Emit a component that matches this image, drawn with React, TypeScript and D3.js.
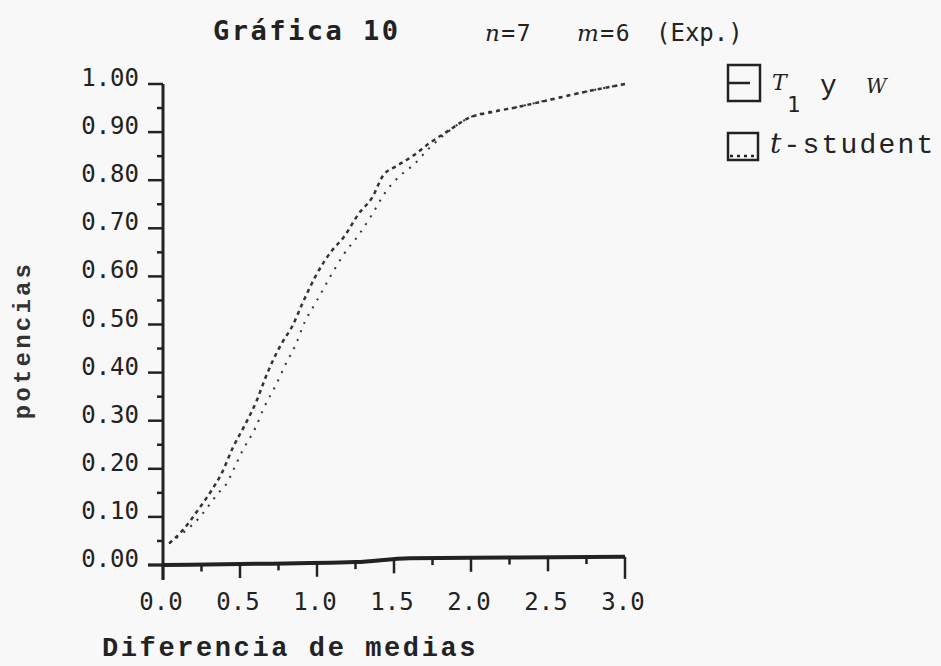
import React from "react";
import * as d3 from "d3";

const width = 941;
const height = 666;

// curva T1 y W (diferencia de medias, potencia)
const difT1 = [0.04, 0.13, 0.24, 0.325, 0.38, 0.455, 0.53, 0.61, 0.66, 0.715, 0.77, 0.845, 0.9, 0.99, 1.1, 1.17, 1.27, 1.36, 1.43, 1.52, 1.62, 1.73, 1.84, 1.99, 2.14, 2.3, 2.51, 2.73, 3.0];
const potT1 = [0.045, 0.073, 0.12, 0.16, 0.19, 0.245, 0.29, 0.343, 0.385, 0.426, 0.46, 0.5, 0.54, 0.6, 0.655, 0.68, 0.73, 0.765, 0.81, 0.83, 0.85, 0.877, 0.9, 0.93, 0.942, 0.952, 0.967, 0.983, 1.0];

// curva t-student
const difT = [0.04, 0.24, 0.36, 0.415, 0.45, 0.52, 0.6, 0.66, 0.73, 0.8, 0.86, 0.92, 1.0, 1.08, 1.17, 1.27, 1.36, 1.44, 1.56, 1.62, 1.73, 1.84, 1.99, 2.3, 2.73, 3.0];
const potT = [0.045, 0.1, 0.15, 0.17, 0.193, 0.24, 0.285, 0.33, 0.372, 0.42, 0.457, 0.505, 0.55, 0.596, 0.644, 0.686, 0.73, 0.773, 0.815, 0.83, 0.867, 0.898, 0.93, 0.952, 0.983, 1.0];

// linea gruesa de la base
const difBase = [0, 0.5, 1.25, 1.6, 2.0, 3.0];
const potBase = [0, 0.002, 0.006, 0.014, 0.015, 0.017];

const yTicks = [0, 0.1, 0.2, 0.3, 0.4, 0.5, 0.6, 0.7, 0.8, 0.9, 1.0];
const yTickLabels = ["0.00", "0.10", "0.20", "0.30", "0.40", "0.50", "0.60", "0.70", "0.80", "0.90", "1.00"];
const xTicks = [0, 0.5, 1.0, 1.5, 2.0, 2.5, 3.0];
const xTickLabels = ["0.0", "0.5", "1.0", "1.5", "2.0", "2.5", "3.0"];

const x = d3.scaleLinear().domain([0, 3]).range([163, 625]);
const y = d3.scaleLinear().domain([0, 1]).range([565, 84]);
const baseAt = d3.scaleLinear().domain(difBase).range(potBase.map(v => y(v)));

const line = d3.line<[number, number]>()
  .x(d => x(d[0]))
  .y(d => y(d[1]))
  .curve(d3.curveMonotoneX);

const ink = "#222";
const mono = "'DejaVu Sans Mono', monospace";
const courier = "'Liberation Mono', 'Courier New', monospace";

export default function App() {
  const t1 = line(difT1.map((d, i) => [d, potT1[i]] as [number, number]));
  const ts = line(difT.map((d, i) => [d, potT[i]] as [number, number]));
  const base = line(difBase.map((d, i) => [d, potBase[i]] as [number, number]));

  const yMinor = d3.range(0.05, 1, 0.1);
  const xMinor = d3.range(0.25, 3, 0.5);

  return (
    <svg width={width} height={height} style={{ position: "absolute", left: 0, top: 0 }}>
      <rect width={width} height={height} fill="#f8f8f8" />

      {/* titulo */}
      <text x={213} y={40} fontFamily={mono} fontWeight="bold" fontSize={27} letterSpacing={2.5} fill={ink}>Gráfica 10</text>
      <text x={485} y={41} fontFamily={mono} fontSize={23} letterSpacing={1.5} fill={ink}>
        <tspan fontStyle="italic" fontFamily="'DejaVu Serif', serif">n</tspan>=7
      </text>
      <text x={577} y={41} fontFamily={mono} fontSize={23} letterSpacing={1.5} fill={ink}>
        <tspan fontStyle="italic" fontFamily="'DejaVu Serif', serif">m</tspan>=6
      </text>
      <text x={656} y={41} fontFamily={mono} fontSize={24} fill={ink}>(Exp.)</text>

      {/* eje y */}
      <line x1={x(0)} x2={x(0)} y1={y(1)} y2={580} stroke={ink} strokeWidth={3} />
      {yTicks.map(t => (
        <line key={"yt" + t} x1={x(0) - 15} x2={x(0)} y1={y(t)} y2={y(t)} stroke={ink} strokeWidth={2.5} />
      ))}
      {yMinor.map(t => (
        <line key={"ym" + t} x1={x(0) - 6} x2={x(0)} y1={y(t)} y2={y(t)} stroke={ink} strokeWidth={2.5} />
      ))}
      {yTicks.map((t, i) => (
        <text key={"yl" + t} x={139} y={y(t) + 2} textAnchor="end" fontFamily={mono} fontSize={24} fill={ink}>{yTickLabels[i]}</text>
      ))}
      <text transform={`translate(30,340) rotate(-90)`} textAnchor="middle" fontFamily={courier} fontWeight="bold" fontSize={24} letterSpacing={3.2} fill="#333">potencias</text>

      {/* eje x */}
      <path d={base ?? ""} fill="none" stroke={ink} strokeWidth={4} />
      <line x1={148} x2={x(0)} y1={y(0)} y2={y(0)} stroke={ink} strokeWidth={3} />
      {xTicks.map(t => (
        <line key={"xt" + t} x1={x(t)} x2={x(t)} y1={baseAt(t)} y2={baseAt(t) + (t === 3 ? 22 : 14)} stroke={ink} strokeWidth={2.5} />
      ))}
      {xMinor.map(t => (
        <line key={"xm" + t} x1={x(t)} x2={x(t)} y1={baseAt(t)} y2={baseAt(t) + 7} stroke={ink} strokeWidth={2.5} />
      ))}
      {xTicks.map((t, i) => (
        <text key={"xl" + t} x={x(t) - 2} y={610} textAnchor="middle" fontFamily={mono} fontSize={24} fill={ink}>{xTickLabels[i]}</text>
      ))}
      <text x={102} y={656} fontFamily={courier} fontWeight="bold" fontSize={27} letterSpacing={2.6} fill={ink}>Diferencia de medias</text>

      {/* curvas */}
      <path d={ts ?? ""} fill="none" stroke="#333" strokeWidth={2} strokeDasharray="2 7" />
      <path d={t1 ?? ""} fill="none" stroke="#333" strokeWidth={2.5} strokeDasharray="4 4" />

      {/* leyenda */}
      <rect x={728} y={65} width={32} height={36} fill="none" stroke={ink} strokeWidth={2.5} />
      <line x1={728} x2={750} y1={83} y2={83} stroke={ink} strokeWidth={2.5} />
      <text x={772} y={90} fontFamily="'DejaVu Serif', serif" fontStyle="italic" fontSize={22} fill={ink}>T</text>
      <text x={787} y={112} fontFamily={mono} fontSize={22} fill={ink}>1</text>
      <text x={820} y={94} fontFamily={courier} fontSize={28} fill={ink}>y</text>
      <text x={866} y={93} fontFamily="'DejaVu Serif', serif" fontStyle="italic" fontSize={20} fill={ink}>W</text>

      <rect x={728} y={133} width={30} height={27} fill="none" stroke={ink} strokeWidth={2.5} />
      <line x1={730} x2={757} y1={156} y2={156} stroke={ink} strokeWidth={2.5} strokeDasharray="3 4" />
      <text x={770} y={153} fontFamily={courier} fontSize={28} letterSpacing={2.2} fill={ink}>
        <tspan fontStyle="italic" fontFamily="'DejaVu Serif', serif">t</tspan>-student
      </text>
    </svg>
  );
}
